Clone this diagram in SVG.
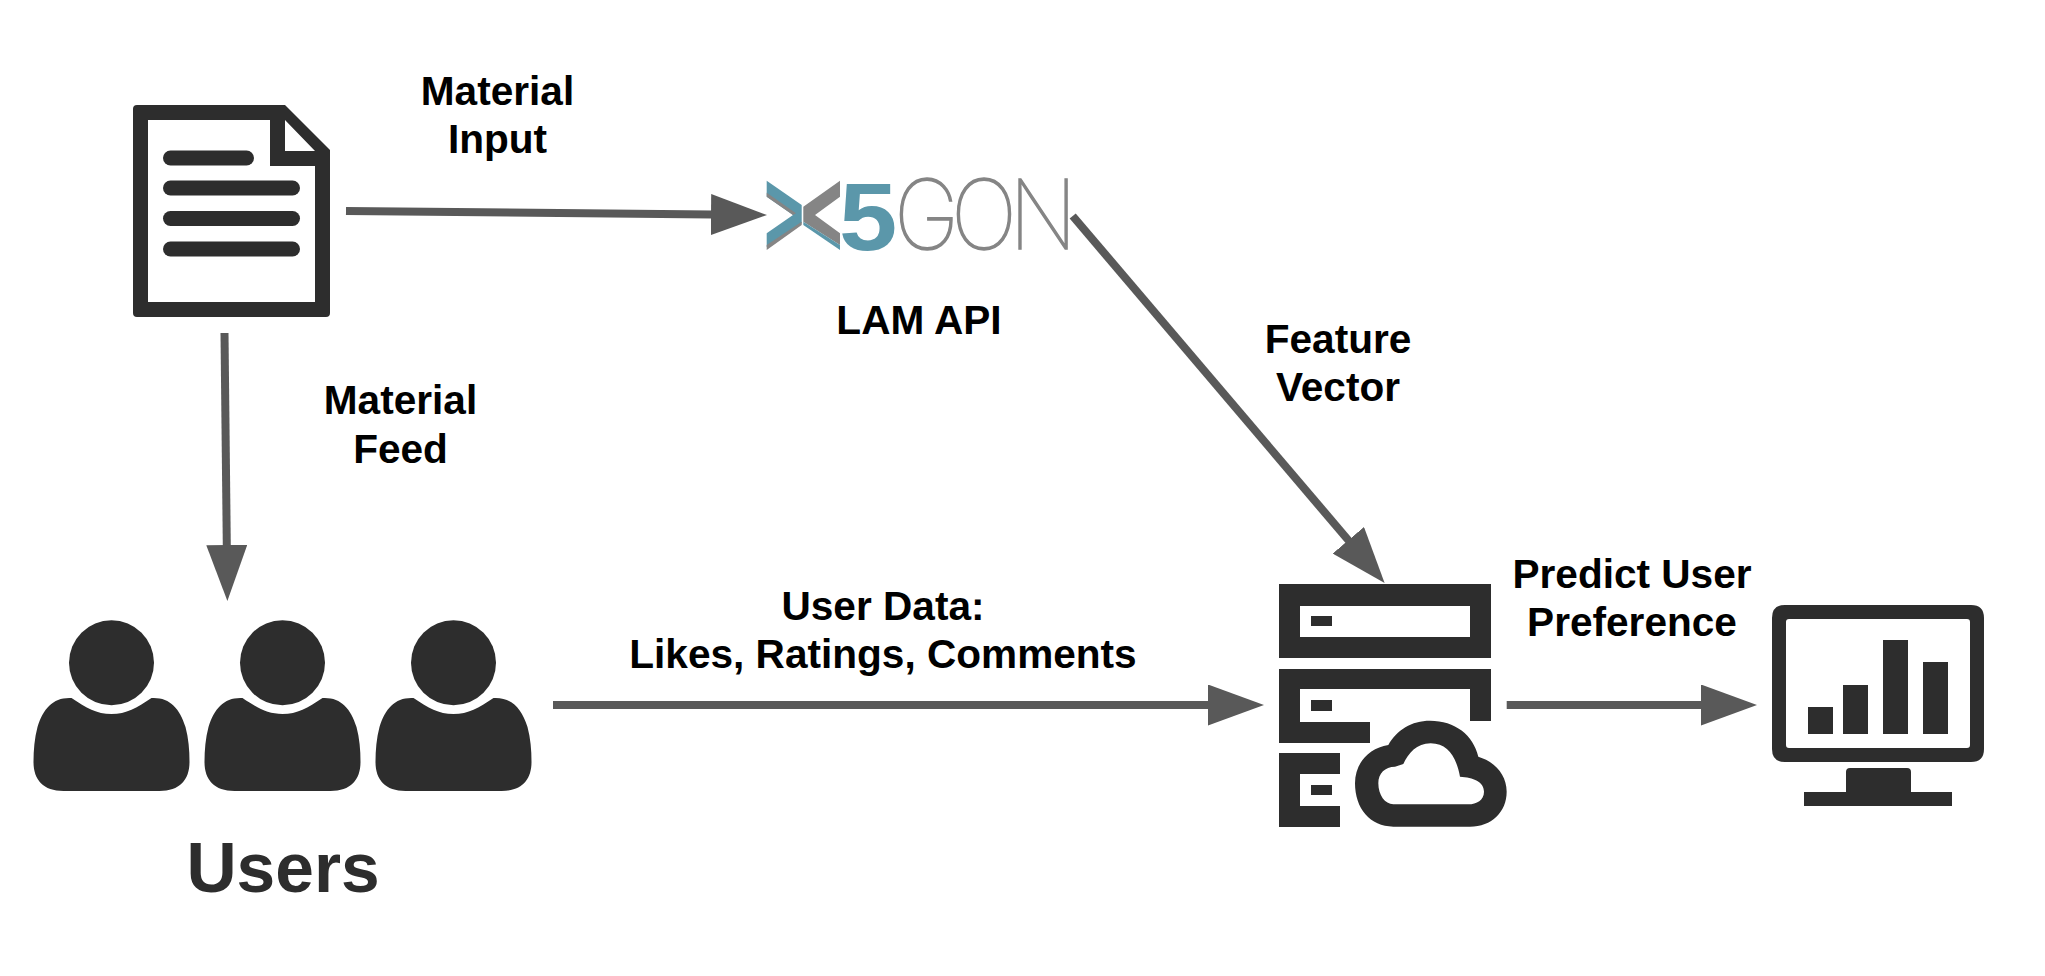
<svg xmlns="http://www.w3.org/2000/svg" width="2045" height="976" viewBox="0 0 2045 976">
<style>
.ic{fill:#2d2d2d}
.lb{font-family:"Liberation Sans",Arial,sans-serif;font-weight:700;font-size:40.600px;fill:#000;text-anchor:middle}
.cn{stroke:#595959;stroke-width:8;fill:none;marker-end:url(#ah)}
.teal{fill:#5b97aa}
.grey{fill:#858585}
</style>
<defs>
<marker id="ah" markerUnits="userSpaceOnUse" viewBox="0 0 56 41" refX="1" refY="20.500" markerWidth="56" markerHeight="41" orient="auto"><path d="M0 0L56 20.500L0 41Z" fill="#595959"/></marker>
<g id="person"><circle cx="0" cy="662.700" r="42.500"/><path d="M-40 698C-25 708 -15 714 0 714C15 714 25 708 40 698C58 697 68 708 74 727C77 738 78 750 78 762C78 780 68 791 48 791L-48 791C-68 791 -78 780 -78 762C-78 750 -77 738 -74 727C-68 708 -58 697 -40 698Z"/></g>
</defs>
<rect width="2045" height="976" fill="#fff"/>
<g id="document">
<path class="ic" fill-rule="evenodd" d="M137 105H285L330 150V313Q330 317 326 317H137Q133 317 133 313V109Q133 105 137 105ZM148 120V302H315V166H270V120ZM285 120V151H315Z"/>
<g class="ic"><rect x="163" y="150.500" width="91" height="15" rx="7.500"/><rect x="163" y="180.500" width="137" height="15" rx="7.500"/><rect x="163" y="211" width="137" height="15" rx="7.500"/><rect x="163" y="241.500" width="137" height="15" rx="7.500"/></g>
</g>
<g id="x5gon">
<path class="teal" d="M766.700 180.700L801.700 205V223.300L766.700 247V233.300L793 215L766.700 196.700Z"/>
<path class="grey" d="M766.700 192.700L796 213.300L793 215L766.700 196.700ZM766.700 245L801.700 221.700V225L766.700 250Z"/>
<path class="grey" d="M840 180.700L803.300 206.700V221.700L840 245V233.300L815 215L840 196.700Z"/>
<path class="teal" d="M803.300 221.700L840 245V250L803.300 225Z"/>
<text transform="translate(839 249.500) scale(1.08 1)" x="0" y="0" font-family="'Liberation Sans',Arial,sans-serif" font-weight="700" font-size="97" fill="#5b97aa">5</text>
<text transform="translate(894 249) scale(.92 1)" x="0 62 125" y="0" font-family="Inter,Lato,'Liberation Sans',sans-serif" font-weight="100" font-size="96" fill="#858585" stroke="#858585" stroke-width="1.500">GON</text>
<text class="lb" x="919" y="333.500">LAM API</text>
</g>
<g id="users" class="ic">
<use href="#person" x="111.500"/><use href="#person" x="282.500"/><use href="#person" x="453.500"/>
<text x="283" y="892" font-family="'Liberation Sans',Arial,sans-serif" font-weight="700" font-size="69.500" text-anchor="middle">Users</text>
</g>
<g id="server">
<path class="ic" fill-rule="evenodd" d="M1279 584H1491V658H1279ZM1300 606V637H1470V606Z"/>
<rect class="ic" x="1311" y="616" width="21" height="10"/>
<path class="ic" d="M1279 669H1491V721H1470V689H1300V722H1370V743H1279Z"/>
<rect class="ic" x="1311" y="700" width="21" height="11"/>
<path class="ic" d="M1279 753H1340V774H1300V806H1340V827H1279Z"/>
<rect class="ic" x="1311" y="785" width="21" height="10"/>
<path class="ic" fill-rule="evenodd" transform="translate(1260 570) scale(.33333)" d="M400 770C330 770 285 715 285 640C285 580 325 535 385 525C410 480 455 452 510 452C585 452 640 495 655 560C705 575 740 615 740 665C740 725 695 770 630 770ZM400 703C375 703 355 675 355 640C355 610 375 590 405 590L430 582C445 550 470 520 512 520C565 520 590 565 600 620C640 622 672 635 672 665C672 690 650 703 625 703Z"/>
</g>
<g id="monitor">
<path class="ic" fill-rule="evenodd" d="M1785 605H1971Q1984 605 1984 618V749Q1984 762 1971 762H1785Q1772 762 1772 749V618Q1772 605 1785 605ZM1789 619Q1786 619 1786 622V745Q1786 748 1789 748H1967Q1970 748 1970 745V622Q1970 619 1967 619Z"/>
<g class="ic"><rect x="1808" y="707" width="25" height="27"/><rect x="1843" y="685" width="25" height="49"/><rect x="1883" y="640" width="25" height="94"/><rect x="1923" y="662" width="25" height="72"/>
<path d="M1850 768H1907Q1911 768 1911 772V792H1952V806H1804V792H1846V772Q1846 768 1850 768Z"/></g>
</g>
<g id="connectors">
<path class="cn" d="M346 211L712 214.500"/>
<path class="cn" d="M224.500 333L226.800 546"/>
<path class="cn" d="M553 705H1209"/>
<path class="cn" d="M1506.700 705H1702"/>
<path class="cn" d="M1072.700 216L1349 541"/>
</g>
<g id="labels">
<text class="lb" x="497.500" y="105">Material</text><text class="lb" x="497.500" y="152.500">Input</text>
<text class="lb" x="400.500" y="414">Material</text><text class="lb" x="400.500" y="462.500">Feed</text>
<text class="lb" x="1338" y="353">Feature</text><text class="lb" x="1338" y="400.500">Vector</text>
<text class="lb" x="883" y="620">User Data:</text><text class="lb" x="883" y="667.500">Likes, Ratings, Comments</text>
<text class="lb" x="1632" y="587.500">Predict User</text><text class="lb" x="1632" y="635.500">Preference</text>
</g>
</svg>
